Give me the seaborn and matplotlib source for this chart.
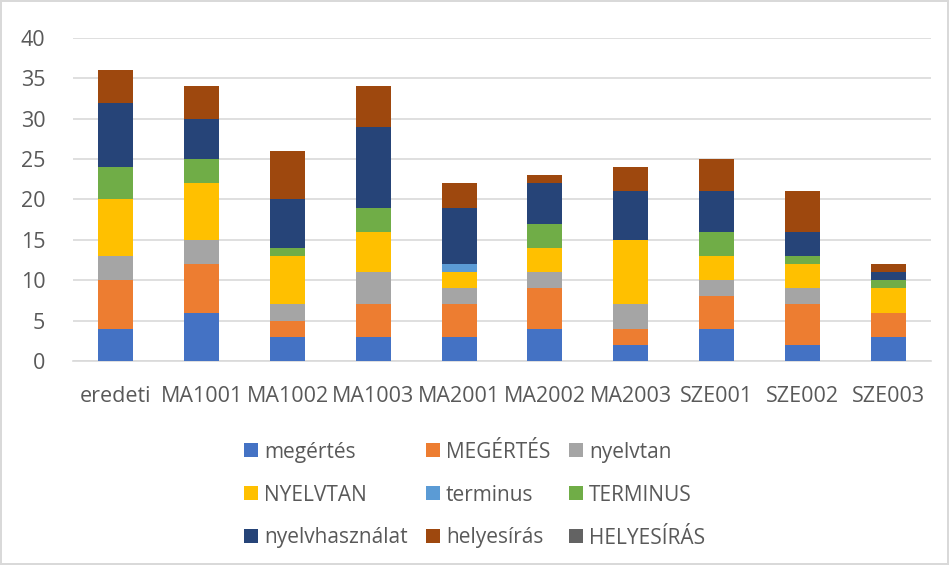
import numpy as np
import pandas as pd
import matplotlib
matplotlib.use("Agg")
import matplotlib.pyplot as plt
import seaborn as sns
from matplotlib.patches import Patch

categories = ["eredeti", "MA1001", "MA1002", "MA1003", "MA2001",
              "MA2002", "MA2003", "SZE001", "SZE002", "SZE003"]

series_names = ["megértés", "MEGÉRTÉS", "nyelvtan", "NYELVTAN", "terminus",
                "TERMINUS", "nyelvhasználat", "helyesírás", "HELYESÍRÁS"]

megertes_lc = [4, 6, 3, 3, 3, 4, 2, 4, 2, 3]
megertes_uc = [6, 6, 2, 4, 4, 5, 2, 4, 5, 3]
nyelvtan_lc = [3, 3, 2, 4, 2, 2, 3, 2, 2, 0]
nyelvtan_uc = [7, 7, 6, 5, 2, 3, 8, 3, 3, 3]
terminus_lc = [0, 0, 0, 0, 1, 0, 0, 0, 0, 0]
terminus_uc = [4, 3, 1, 3, 0, 3, 0, 3, 1, 1]
nyelvhasznalat = [8, 5, 6, 10, 7, 5, 6, 5, 3, 1]
helyesiras_lc = [4, 4, 6, 5, 3, 1, 3, 4, 5, 1]
helyesiras_uc = [0, 0, 0, 0, 0, 0, 0, 0, 0, 0]

colors = ["#4472C4", "#ED7D31", "#A5A5A5", "#FFC000", "#5B9BD5",
          "#70AD47", "#264478", "#9E480E", "#636363"]

df = pd.DataFrame({
    "megértés": megertes_lc,
    "MEGÉRTÉS": megertes_uc,
    "nyelvtan": nyelvtan_lc,
    "NYELVTAN": nyelvtan_uc,
    "terminus": terminus_lc,
    "TERMINUS": terminus_uc,
    "nyelvhasználat": nyelvhasznalat,
    "helyesírás": helyesiras_lc,
    "HELYESÍRÁS": helyesiras_uc,
}, index=categories)
cum = df.cumsum(axis=1)

sns.set_theme(style="white")
plt.rcParams["font.family"] = ["Open Sans", "DejaVu Sans"]

fig = plt.figure(figsize=(9.49, 5.65), dpi=100)
ax = fig.add_axes([73 / 949, 1 - 361 / 565, 858 / 949, 323 / 565])

# stacked bars: draw cumulative totals from the top layer down
for name, col in reversed(list(zip(series_names, colors))):
    sns.barplot(x=categories, y=cum[name].values, color=col, width=0.41,
                saturation=1, ax=ax, linewidth=0, zorder=3)

ax.set_ylim(0, 40)
ax.set_xlim(-0.5, len(categories) - 0.5)
ax.set_yticks(np.arange(0, 41, 5))
ax.yaxis.grid(True, color="#d9d9d9", linewidth=1.2, zorder=0)
ax.set_axisbelow(True)
for s in ["top", "right", "left"]:
    ax.spines[s].set_visible(False)
ax.spines["bottom"].set_color("#d9d9d9")
ax.spines["bottom"].set_linewidth(1.2)
ax.tick_params(axis="both", length=0, labelsize=15.5, colors="#595959")
ax.tick_params(axis="x", pad=18)
ax.tick_params(axis="y", pad=20)
ax.set_xlabel("")
ax.set_ylabel("")

handles = [Patch(facecolor=c, edgecolor="none") for c in colors]
order = [0, 3, 6, 1, 4, 7, 2, 5, 8]
leg = fig.legend([handles[i] for i in order], [series_names[i] for i in order],
                 ncol=3, loc="upper center", bbox_to_anchor=(0.5, 1 - 423 / 565),
                 frameon=False, fontsize=15, handlelength=0.65, handleheight=0.65,
                 handletextpad=0.3, labelspacing=1.05, columnspacing=0.9)
for t in leg.get_texts():
    t.set_color("#595959")

fig.patch.set_edgecolor("#d9d9d9")
fig.patch.set_linewidth(1.5)
fig.savefig("out.png", dpi=100, edgecolor=fig.get_edgecolor())
